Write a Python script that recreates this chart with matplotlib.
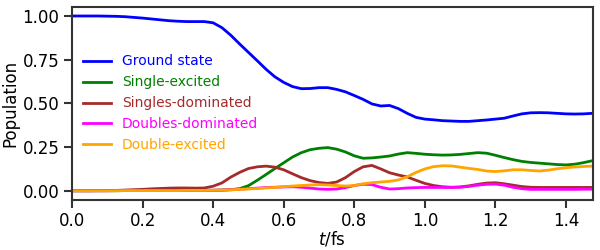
import numpy as np
import matplotlib
matplotlib.use('Agg')
import matplotlib.pyplot as plt

# time grid (fs)
t = np.arange(60) * 0.025

ground = [1.0, 1.0, 1.0, 1.0, 0.999, 0.998, 0.996, 0.992, 0.988, 0.983,
          0.978, 0.973, 0.970, 0.968, 0.968, 0.968, 0.961, 0.933, 0.89, 0.84,
          0.792, 0.744, 0.695, 0.652, 0.62, 0.596, 0.584, 0.585, 0.59, 0.59,
          0.58, 0.566, 0.545, 0.523, 0.497, 0.485, 0.488, 0.47, 0.443, 0.42,
          0.41, 0.406, 0.401, 0.399, 0.397, 0.397, 0.401, 0.405, 0.41, 0.415,
          0.428, 0.44, 0.446, 0.447, 0.446, 0.443, 0.44, 0.439, 0.44, 0.443]

single_exc = [0.0, 0.0, 0.0, 0.0, 0.0, 0.0, 0.001, 0.001, 0.001, 0.001,
              0.002, 0.002, 0.002, 0.002, 0.002, 0.003, 0.003, 0.004, 0.006, 0.012,
              0.029, 0.06, 0.093, 0.127, 0.16, 0.193, 0.218, 0.235, 0.243, 0.247,
              0.238, 0.222, 0.2, 0.186, 0.188, 0.193, 0.199, 0.21, 0.218, 0.214,
              0.209, 0.206, 0.204, 0.205, 0.208, 0.213, 0.218, 0.215, 0.203, 0.19,
              0.178, 0.168, 0.162, 0.158, 0.154, 0.15, 0.148, 0.152, 0.161, 0.172]

singles_dom = [0.0, 0.0, 0.0, 0.001, 0.001, 0.002, 0.004, 0.006, 0.008, 0.011,
               0.013, 0.015, 0.016, 0.016, 0.015, 0.016, 0.026, 0.045, 0.078, 0.105,
               0.127, 0.137, 0.141, 0.135, 0.12, 0.097, 0.075, 0.058, 0.047, 0.042,
               0.05, 0.075, 0.11, 0.137, 0.145, 0.125, 0.103, 0.09, 0.079, 0.06,
               0.042, 0.03, 0.023, 0.02, 0.022, 0.028, 0.037, 0.044, 0.046, 0.04,
               0.032, 0.024, 0.02, 0.019, 0.019, 0.019, 0.019, 0.019, 0.019, 0.019]

doubles_dom = [0.0, 0.0, 0.0, 0.0, 0.0, 0.001, 0.001, 0.001, 0.001, 0.002,
               0.002, 0.002, 0.002, 0.002, 0.002, 0.002, 0.003, 0.004, 0.006, 0.009,
               0.012, 0.015, 0.018, 0.02, 0.022, 0.023, 0.02, 0.015, 0.01, 0.008,
               0.01, 0.018, 0.03, 0.037, 0.035, 0.02, 0.01, 0.012, 0.016, 0.018,
               0.019, 0.019, 0.019, 0.019, 0.02, 0.025, 0.032, 0.037, 0.038, 0.032,
               0.02, 0.012, 0.008, 0.008, 0.008, 0.008, 0.008, 0.008, 0.009, 0.009]

double_exc = [0.0, 0.0, 0.0, 0.0, 0.0, 0.0, 0.001, 0.001, 0.001, 0.001,
              0.001, 0.001, 0.001, 0.002, 0.002, 0.002, 0.003, 0.004, 0.005, 0.008,
              0.01, 0.013, 0.016, 0.019, 0.023, 0.027, 0.03, 0.033, 0.035, 0.033,
              0.03, 0.027, 0.03, 0.04, 0.046, 0.05, 0.054, 0.062, 0.08, 0.105,
              0.125, 0.138, 0.143, 0.142, 0.135, 0.128, 0.122, 0.113, 0.11, 0.114,
              0.12, 0.12, 0.116, 0.113, 0.118, 0.126, 0.132, 0.136, 0.139, 0.141]

series = [
    ('Ground state', ground, 'blue'),
    ('Single-excited', single_exc, 'green'),
    ('Singles-dominated', singles_dom, 'brown'),
    ('Doubles-dominated', doubles_dom, 'magenta'),
    ('Double-excited', double_exc, 'orange'),
]

fig = plt.figure(figsize=(6, 2.5), dpi=100)
ax = fig.add_axes([0.12, 0.202, 0.868, 0.769])

for label, vals, color in series:
    ax.plot(t, vals, color=color, linewidth=2, label=label)

ax.set_xlim(0, 1.476)
ax.set_ylim(-0.05, 1.05)
ax.set_xticks([0.0, 0.2, 0.4, 0.6, 0.8, 1.0, 1.2, 1.4])
ax.set_yticks([0.0, 0.25, 0.5, 0.75, 1.0])
ax.set_xticklabels(['0.0', '0.2', '0.4', '0.6', '0.8', '1.0', '1.2', '1.4'])
ax.set_yticklabels(['0.00', '0.25', '0.50', '0.75', '1.00'])
ax.tick_params(labelsize=12, width=1.5, length=5.5, color='#333333')
for s in ax.spines.values():
    s.set_linewidth(1.5)
    s.set_color('#333333')

ax.set_xlabel('$t$/fs', fontsize=12, labelpad=0)
ax.set_ylabel('Population', fontsize=12, labelpad=2)

leg = ax.legend(loc='center left', fontsize=10, frameon=False,
                handlelength=2.0, labelspacing=0.5, borderaxespad=0.4)
for txt, line in zip(leg.get_texts(), leg.get_lines()):
    txt.set_color(line.get_color())

fig.savefig('out.png', dpi=100)
